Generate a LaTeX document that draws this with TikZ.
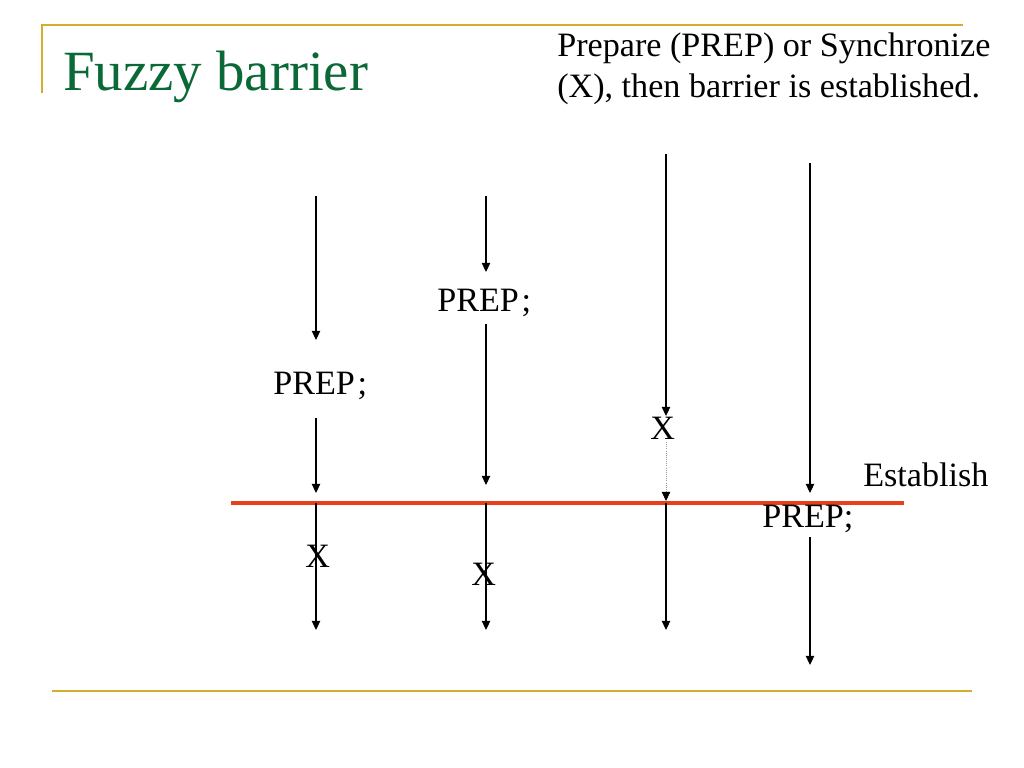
\documentclass[tikz,border=0pt]{standalone}
\usepackage{fontspec}
\setmainfont{Liberation Serif}
\usetikzlibrary{arrows.meta}

\begin{document}
\begin{tikzpicture}[x=0.703125pt,y=-0.703125pt,line cap=butt]
  % Styles and colors
  \tikzset{
    flow/.style={line width=0.8pt,-{Triangle[length=6.5pt,width=6pt]}},
    sync/.style={line width=0.5pt,draw=gray!80,densely dotted,-{Triangle[length=6.5pt,width=6pt,black]}},
    barrier/.style={line width=2.4pt,draw=barrierred},
    rule/.style={line width=2pt,draw=rulegold},
    label/.style={inner sep=0pt,anchor=base west,font=\fontsize{24}{28}\selectfont}
  }
  \definecolor{rulegold}{RGB}{212,172,50}
  \definecolor{barrierred}{RGB}{232,64,26}
  \definecolor{titlegreen}{RGB}{10,105,55}

  \useasboundingbox (0,0) rectangle (1024,768);

  % Frame rules
  \coordinate (ruleTL) at (42,25);
  \coordinate (ruleTR) at (963,25);
  \coordinate (ruleL) at (42,93);
  \coordinate (ruleBL) at (52,691);
  \coordinate (ruleBR) at (972,691);
  \draw[rule] (ruleL) -- (ruleTL) -- (ruleTR);
  \draw[rule] (ruleBL) -- (ruleBR);

  % Title and note
  \node[label,font=\fontsize{40}{48}\selectfont,text=titlegreen] (title) at (63,91) {Fuzzy barrier};
  \node[label] (note1) at (557,57) {Prepare (PREP) or Synchronize};
  \node[label] (note2) at (557,98) {(X), then barrier is established.};

  % Barrier
  \coordinate (barL) at (231,503);
  \coordinate (barR) at (904,503);
  \draw[barrier] (barL) -- (barR);
  \node[label] (establish) at (863,486) {Establish};

  % Labels on the threads
  \node[label] (prepA) at (273,394) {PREP\kern2pt;};
  \node[label] (prepB) at (437,312) {PREP\kern2pt;};
  \node[label] (prepD) at (762,527) {PREP;};
  \node[label] (syncA) at (305,567) {X};
  \node[label] (syncB) at (471,585) {X};
  \node[label] (syncC) at (650,439) {X};

  % Thread A
  \coordinate (a0) at (316,196); \coordinate (a1) at (316,340);
  \coordinate (a2) at (316,418); \coordinate (a3) at (316,493);
  \coordinate (a4) at (316,503); \coordinate (a5) at (316,630);
  \draw[flow] (a0) -- (a1);
  \draw[flow] (a2) -- (a3);
  \draw[flow] (a4) -- (a5);

  % Thread B
  \coordinate (b0) at (486,196); \coordinate (b1) at (486,272);
  \coordinate (b2) at (486,324); \coordinate (b3) at (486,485);
  \coordinate (b4) at (486,503); \coordinate (b5) at (486,630);
  \draw[flow] (b0) -- (b1);
  \draw[flow] (b2) -- (b3);
  \draw[flow] (b4) -- (b5);

  % Thread C
  \coordinate (c0) at (666,154); \coordinate (c1) at (666,416);
  \coordinate (c2) at (666,442); \coordinate (c3) at (666,501);
  \coordinate (c4) at (666,503); \coordinate (c5) at (666,630);
  \draw[flow] (c0) -- (c1);
  \draw[sync] (c2) -- (c3);
  \draw[flow] (c4) -- (c5);

  % Thread D
  \coordinate (d0) at (810,163); \coordinate (d1) at (810,493);
  \coordinate (d2) at (810,537); \coordinate (d3) at (810,665);
  \draw[flow] (d0) -- (d1);
  \draw[flow] (d2) -- (d3);
\end{tikzpicture}
\end{document}
